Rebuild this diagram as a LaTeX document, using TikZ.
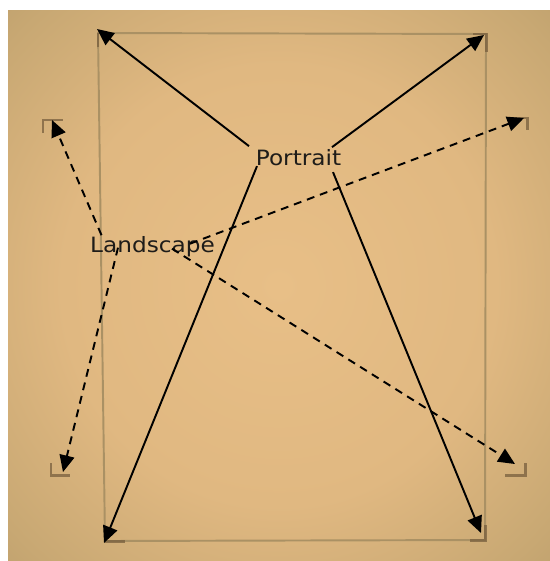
\documentclass[tikz,border=0pt]{standalone}
\usepackage{fontspec}
\usetikzlibrary{arrows.meta}
\newfontfamily\lblfont[FakeStretch=1.1]{DejaVu Sans}

\definecolor{bgin}{RGB}{232,191,135}
\definecolor{bgmid}{RGB}{224,184,129}
\definecolor{bgrim}{RGB}{200,168,115}
\definecolor{bgedge}{RGB}{175,148,100}
\definecolor{bgouter}{RGB}{150,128,86}
\definecolor{bgcorner}{RGB}{125,107,72}
\definecolor{pagebrown}{RGB}{170,145,100}
\definecolor{markbrown}{RGB}{120,95,62}
\definecolor{inkgray}{RGB}{30,28,25}

\pgfdeclareradialshading{photo}{\pgfpoint{0bp}{0bp}}{color(0bp)=(bgin); color(20bp)=(bgmid); color(33bp)=(bgrim); color(45bp)=(bgedge); color(55bp)=(bgouter); color(71bp)=(bgcorner)}

\begin{document}
\begin{tikzpicture}[x=0.02cm, y=-0.02cm,
  lbl/.style={font=\lblfont\fontsize{12}{14}\selectfont, text=inkgray, inner sep=0pt, anchor=base},
  solidarrow/.style={line width=1.1pt, -{Triangle[length=9.5pt,width=8.5pt]}},
  dasharrow/.style={solidarrow, dash pattern=on 4.5pt off 3.4pt},
  cornermark/.style={line width=1.7pt, draw=markbrown, opacity=.75},
  pageedge/.style={line width=1.1pt, draw=pagebrown}]
\useasboundingbox (0,0) rectangle (550,561);
\fill[white] (0,0) rectangle (550,561);
\shade[shading=photo] (8,10) rectangle (550,561);

% the sheet in portrait
\draw[pageedge] (98,33) -- (486,34) -- (485,540) -- (105,541) -- cycle;
\draw[cornermark] (98,47) -- (98,33);
\draw[cornermark] (473,34) -- (486,34) -- (486,52);
\draw[cornermark] (105,528) -- (105,541) -- (125,541);
\draw[cornermark] (470,540) -- (485,540) -- (485,525);

% corners for landscape
\draw[cornermark] (43,133) -- (43,120) -- (63,120);
\draw[cornermark] (510,118) -- (527,118) -- (527,130);
\draw[cornermark] (51,463) -- (51,475) -- (70,475);
\draw[cornermark] (505,475) -- (525,475) -- (525,463);

\node[lbl] (Portrait) at (298.5,165) {Portrait};
\node[lbl] (Landscape) at (152.5,252) {Landscape};

\coordinate (pTL) at (97,29);
\coordinate (pTR) at (484,35);
\coordinate (pBL) at (104,543);
\coordinate (pBR) at (481,533);
\coordinate (lTL) at (52,120);
\coordinate (lTR) at (524,118);
\coordinate (lBL) at (63,472);
\coordinate (lBR) at (515,464);

\draw[solidarrow] ([shift={(-49.5,-11)}]Portrait.center) -- (pTL);
\draw[solidarrow] ([shift={(33.5,-10)}]Portrait.center) -- (pTR);
\draw[solidarrow] ([shift={(-41.5,9)}]Portrait.center) -- (pBL);
\draw[solidarrow] ([shift={(34.5,15)}]Portrait.center) -- (pBR);

\draw[dasharrow] ([shift={(-51,-11)}]Landscape.center) -- (lTL);
\draw[dasharrow] ([shift={(37.5,-2.5)}]Landscape.center) -- (lTR);
\draw[dasharrow] ([shift={(-34.5,1.5)}]Landscape.center) -- (lBL);
\draw[dasharrow] ([shift={(19.5,2.5)}]Landscape.center) -- (lBR);
\end{tikzpicture}
\end{document}
